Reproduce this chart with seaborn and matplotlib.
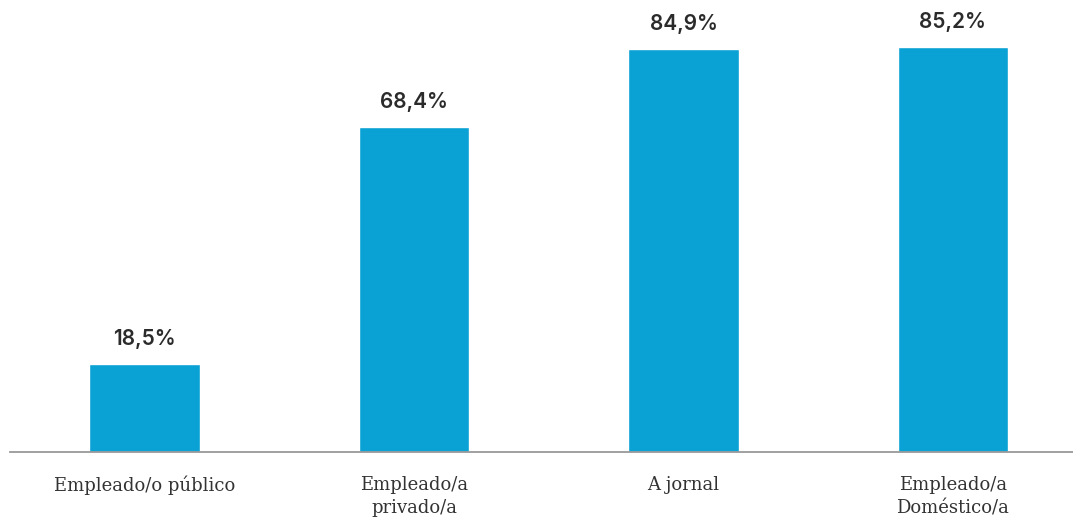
import matplotlib
matplotlib.use("Agg")
import matplotlib.pyplot as plt
import seaborn as sns
import pandas as pd

categories = ["Empleado/o público", "Empleado/a\nprivado/a", "A jornal", "Empleado/a\nDoméstico/a"]
values = [18.5, 68.4, 84.9, 85.2]
value_labels = ["18,5%", "68,4%", "84,9%", "85,2%"]

sns.set_theme(style="white")
plt.rcParams['font.family'] = ['DejaVu Sans']

df = pd.DataFrame({"cat": categories, "val": values})

fig = plt.figure(figsize=(10.73, 5.18), dpi=100)
ax = fig.add_axes([10/1073, 66/518, 1 - 10/1073, 1 - 66/518])
sns.barplot(data=df, x="cat", y="val", color="#0AA1D4", saturation=1, width=0.41, ax=ax)

ax.set_xlim(-0.5, 3.446)
ax.set_ylim(0, 95.2)
for s in ["top", "right", "left"]:
    ax.spines[s].set_visible(False)
ax.spines["bottom"].set_color("#999999")
ax.spines["bottom"].set_linewidth(1.3)
ax.set_yticks([])
ax.set_xlabel("")
ax.set_ylabel("")
ax.tick_params(axis="x", length=0, pad=17)
for lab in ax.get_xticklabels():
    lab.set_fontfamily("DejaVu Serif")
    lab.set_fontsize(13)
    lab.set_color("#333333")
    lab.set_linespacing(1.4)

for i, (v, t) in enumerate(zip(values, value_labels)):
    ax.annotate(t, xy=(i, v), xytext=(0, 11), textcoords="offset points",
                ha="center", va="bottom", fontsize=15, fontweight=600,
                color="#2b2b2b", family="Inter")

fig.savefig("out.png", dpi=100)
